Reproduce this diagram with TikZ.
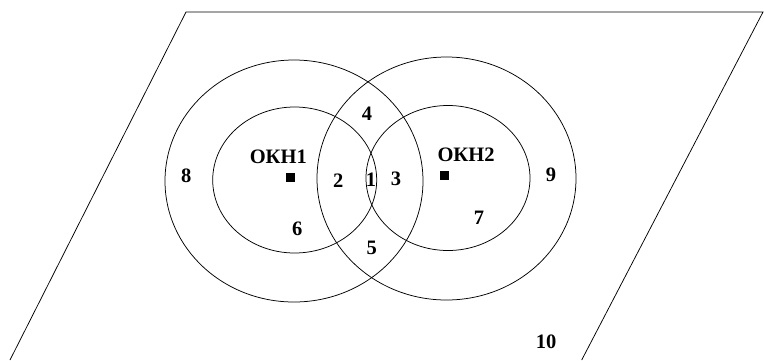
\documentclass[tikz,border=0pt]{standalone}
\usepackage{fontspec}
\setmainfont{Liberation Serif}
\begin{document}
\begin{tikzpicture}[x=1pt,y=-1pt,line width=0.75pt,
  lbl/.style={font=\bfseries\fontsize{20.5}{20.5}\selectfont,inner sep=0pt,anchor=center},
  ring/.style={draw=black},
  site/.style={fill=black,minimum size=8.5pt,inner sep=0pt,draw=none}]
\useasboundingbox (0,0) rectangle (764,360);
% plane (parallelogram, cut by the bottom edge)
\draw (10,360) -- (186,12) -- (763,12) -- (581.7,360);
% zones around site 1
\draw[ring] (294,181) ellipse [x radius=129, y radius=121];
\draw[ring] (294.7,180) ellipse [x radius=82, y radius=73];
% zones around site 2
\draw[ring] (446.5,178.5) ellipse [x radius=129.5, y radius=121.5];
\draw[ring] (448,178) ellipse [x radius=82, y radius=72.5];
% sites
\node[site] (s1) at (290.5,177.5) {};
\node[site] (s2) at (444.5,175.5) {};
\node[lbl] (n1) at (278.3,157) {ОКН1};
\node[lbl] (n2) at (466,155) {ОКН2};
% region numbers
\node[lbl] (r1) at (371,179.3) {1};
\node[lbl] (r2) at (338.3,180.7) {2};
\node[lbl] (r3) at (396,179.3) {3};
\node[lbl] (r4) at (367,114) {4};
\node[lbl] (r5) at (371.7,248.3) {5};
\node[lbl] (r6) at (297.3,229.3) {6};
\node[lbl] (r7) at (479,218) {7};
\node[lbl] (r8) at (186.3,176) {8};
\node[lbl] (r9) at (551,175) {9};
\node[lbl] (r10) at (546.2,341.7) {10};
\end{tikzpicture}
\end{document}
